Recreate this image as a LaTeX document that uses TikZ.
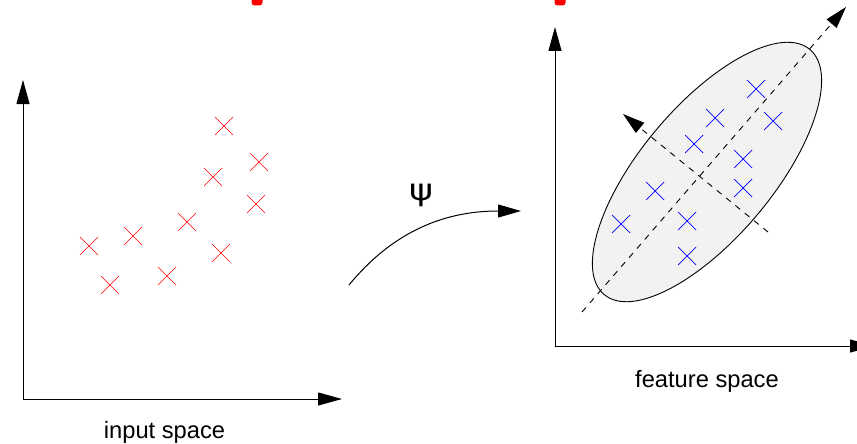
\documentclass[tikz,border=0pt]{standalone}
\usepackage{fontspec}
\setmainfont{Liberation Sans}
\newfontfamily\psifont{DejaVu Sans}
\usetikzlibrary{arrows.meta,shapes.geometric,shapes.misc}
\begin{document}
\begin{tikzpicture}[x=1pt,y=-1pt,
  axisline/.style={line width=1pt, -{Triangle[length=24pt,width=13pt]}},
  rcross/.style={cross out, draw=red, line width=0.7pt, minimum size=18pt, inner sep=0pt, outer sep=0pt},
  bcross/.style={cross out, draw=blue, line width=0.7pt, minimum size=18pt, inner sep=0pt, outer sep=0pt},
  dashaxis/.style={line width=0.9pt, dash pattern=on 6pt off 6pt, -{Triangle[length=22pt,width=13pt]}},
  lbl/.style={font=\fontsize{23.7}{28}\selectfont, inner sep=0pt, anchor=base},
  dotmark/.style={rectangle, rounded corners=3pt, fill=red, minimum width=11pt, minimum height=12pt, inner sep=0pt}]
\useasboundingbox (0,0) rectangle (857,444);
% red marks at top edge
\node[dotmark] (d1) at (257,-0.5) {};
\node[dotmark] (d2) at (560,-0.5) {};
% input space axes
\coordinate (O1) at (23,399);
\coordinate (Y1) at (23,80);
\coordinate (X1) at (342,399);
\draw[axisline] (O1) -- (Y1);
\draw[axisline] (O1) -- (X1);
% feature space axes
\coordinate (O2) at (555,346);
\coordinate (Y2) at (555,27);
\coordinate (X2) at (874,346);
\draw[axisline] (O2) -- (Y2);
\draw[axisline] (O2) -- (X2);
% ellipse
\node[ellipse, draw, line width=0.9pt, fill=gray!10, minimum width=320pt, minimum height=132pt, inner sep=0pt, rotate=50] (E) at (707,172) {};
% principal axes
\coordinate (M1) at (582,312);
\coordinate (M2) at (846,7);
\coordinate (N1) at (768,232);
\coordinate (N2) at (623,114);
\draw[dashaxis] (M1) -- (M2);
\draw[dashaxis] (N1) -- (N2);
% red crosses
\node[rcross] (r1) at (224,126) {};
\node[rcross] (r2) at (259,162) {};
\node[rcross] (r3) at (213,177) {};
\node[rcross] (r4) at (256,204) {};
\node[rcross] (r5) at (187,222) {};
\node[rcross] (r6) at (133,236) {};
\node[rcross] (r7) at (89,246) {};
\node[rcross] (r8) at (221,253) {};
\node[rcross] (r9) at (167,276) {};
\node[rcross] (r10) at (110,285) {};
% blue crosses
\node[bcross] (b1) at (756,89) {};
\node[bcross] (b2) at (715,118) {};
\node[bcross] (b3) at (773,121) {};
\node[bcross] (b4) at (694,144) {};
\node[bcross] (b5) at (743,159) {};
\node[bcross] (b6) at (655,191) {};
\node[bcross] (b7) at (743,188) {};
\node[bcross] (b8) at (621,224) {};
\node[bcross] (b9) at (687,221) {};
\node[bcross] (b10) at (687,256) {};
% mapping arrow
\coordinate (ps) at (349,285);
\coordinate (pe) at (521,211);
\draw[line width=1pt, -{Triangle[length=23pt,width=13pt]}] (ps) .. controls (390,235) and (440,211) .. (pe);
\node[inner sep=0pt, font=\psifont\fontsize{25}{30}\selectfont] (psi) at (421,195) {\scalebox{1.45}[1.2]{ψ}};
% labels
\node[lbl] (in) at (164.5,438) {input space};
\node[lbl] (fs) at (707,387) {feature space};
\end{tikzpicture}
\end{document}
